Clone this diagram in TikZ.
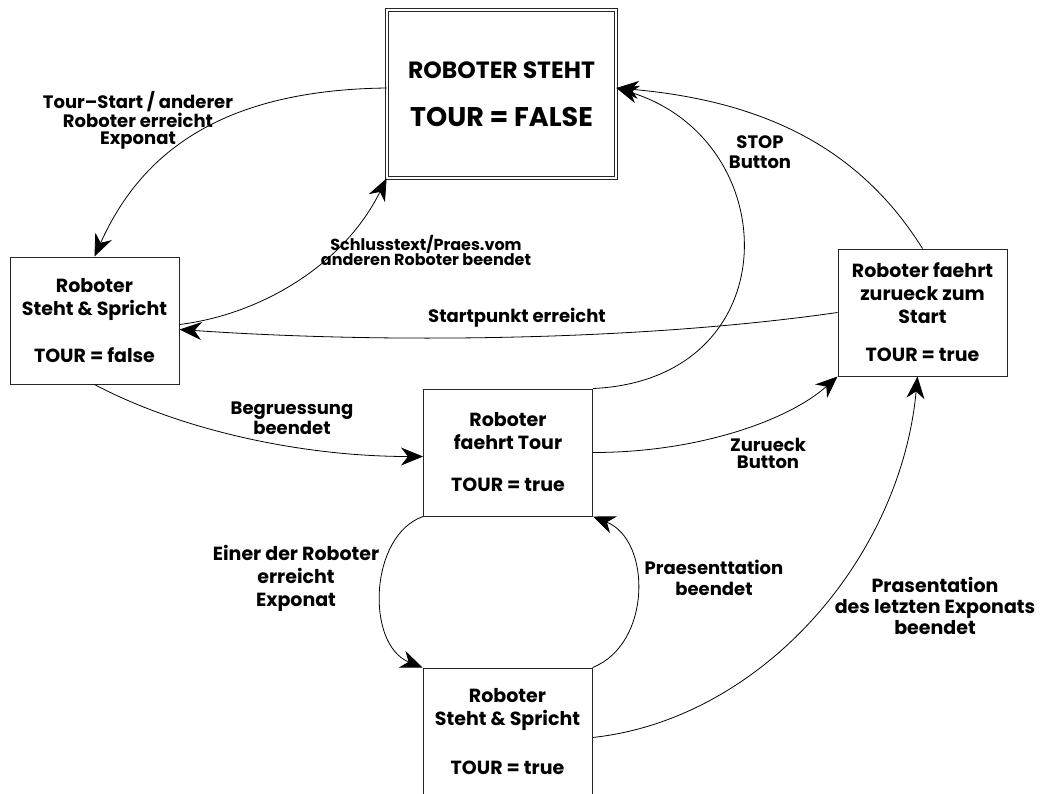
\documentclass[tikz,border=0pt]{standalone}
\usepackage{fontspec}
\setmainfont{Poppins}
\usetikzlibrary{arrows.meta}
\tikzset{
    %Define standard arrow tip
    >={Stealth[length=22pt,width=18pt,inset=7pt]},
    %Define style for state boxes
    state/.style={
           rectangle,
           draw=black!85,
           line width=1pt,
           minimum width=169pt,
           minimum height=127pt,
           align=center,
           font=\bfseries\fontsize{19}{23}\selectfont},
    %Define style for the idle box
    idle/.style={
           state,
           double,
           double distance=2.5pt,
           line width=0.8pt,
           minimum width=229pt,
           minimum height=168pt,
           font=\bfseries\fontsize{27}{48}\selectfont},
    % Define style for transition texts
    cond/.style={
           align=center,
           inner sep=0pt,
           font=\bfseries\fontsize{18}{#1}\selectfont},
    cond/.default=19,
    % Define arrow style
    arrow/.style={
           ->,
           line width=0.8pt,
           }
}

\begin{document}
\begin{tikzpicture}[x=1pt, y=-1pt]
    \useasboundingbox (0,0) rectangle (1040,793);
    \clip (0,0) rectangle (1040,793);
    \node [idle] (idle) at (501.5,94) {{\fontsize{23.5}{48}\selectfont ROBOTER STEHT}\\TOUR = FALSE};
    \node [state] (greet) at (94.5,320.5) {Roboter\\Steht \& Spricht\\[24pt]TOUR = false};
    \node [state] (tour) at (508,452.5) {Roboter\\faehrt Tour\\[19pt]TOUR = true};
    \node [state] (back) at (922.5,312.5) {Roboter faehrt\\zurueck zum\\Start\\[15pt]TOUR = true};
    \node [state] (talk) at (507.5,731.5) {Roboter\\Steht \& Spricht\\[26pt]TOUR = true};

    % transition texts
    \node [cond=17] (tstart) at (138,120) {Tour--Start / anderer\\Roboter erreicht\\Exponat};
    \node [cond, font=\bfseries\fontsize{16}{15}\selectfont] (tend) at (426,250) {Schlusstext/Praes.vom\\anderen Roboter beendet};
    \node [cond] (thome) at (517,318) {Startpunkt erreicht};
    \node [cond=20] (tgreet) at (292,418) {Begruessung\\beendet};
    \node [cond=20] (tstop) at (760,152) {STOP\\Button};
    \node [cond=17] (tback) at (768,453) {Zurueck\\Button};
    \node [cond, font=\bfseries\fontsize{19}{23}\selectfont] (treach) at (296,578) {Einer der Roboter\\erreicht\\Exponat};
    \node [cond=21] (tdone) at (714,578) {Praesenttation\\beendet};
    \node [cond, font=\bfseries\fontsize{19}{21}\selectfont] (tlast) at (935,606) {Prasentation\\des letzten Exponats\\beendet};

    \draw [arrow] ([yshift=6pt]idle.west) .. controls +(-170,2) and +(45,-100) .. (greet.north);
    \draw [arrow] ([yshift=-4pt]greet.east) .. controls +(81,-10) and +(-43,87) .. (idle.south west);
    \draw [arrow] (back.west) .. controls +(-188,27) and +(220,15) .. ([yshift=-9pt]greet.east);
    \draw [arrow] (greet.south) .. controls +(85,45) and +(-123,0) .. ([yshift=-4pt]tour.west);
    \draw [arrow] (tour.north east) .. controls +(197,-9) and +(170,52) .. ([yshift=6pt]idle.east);
    \draw [arrow] (back.north) .. controls +(-62,-99) and +(150,13) .. ([yshift=6pt]idle.east);
    \draw [arrow] (tour.east) .. controls +(107,0) and +(-48,43) .. (back.south west);
    \draw [arrow] (tour.south west) .. controls +(-54,19) and +(-57,-23) .. (talk.north west);
    \draw [arrow] (talk.north east) .. controls +(59,-23) and +(59,24) .. (tour.south east);
    \draw [arrow] ([yshift=-6pt]talk.east) .. controls +(168,-18) and +(-17,183) .. ([xshift=-5pt]back.south);
\end{tikzpicture}
\end{document}
